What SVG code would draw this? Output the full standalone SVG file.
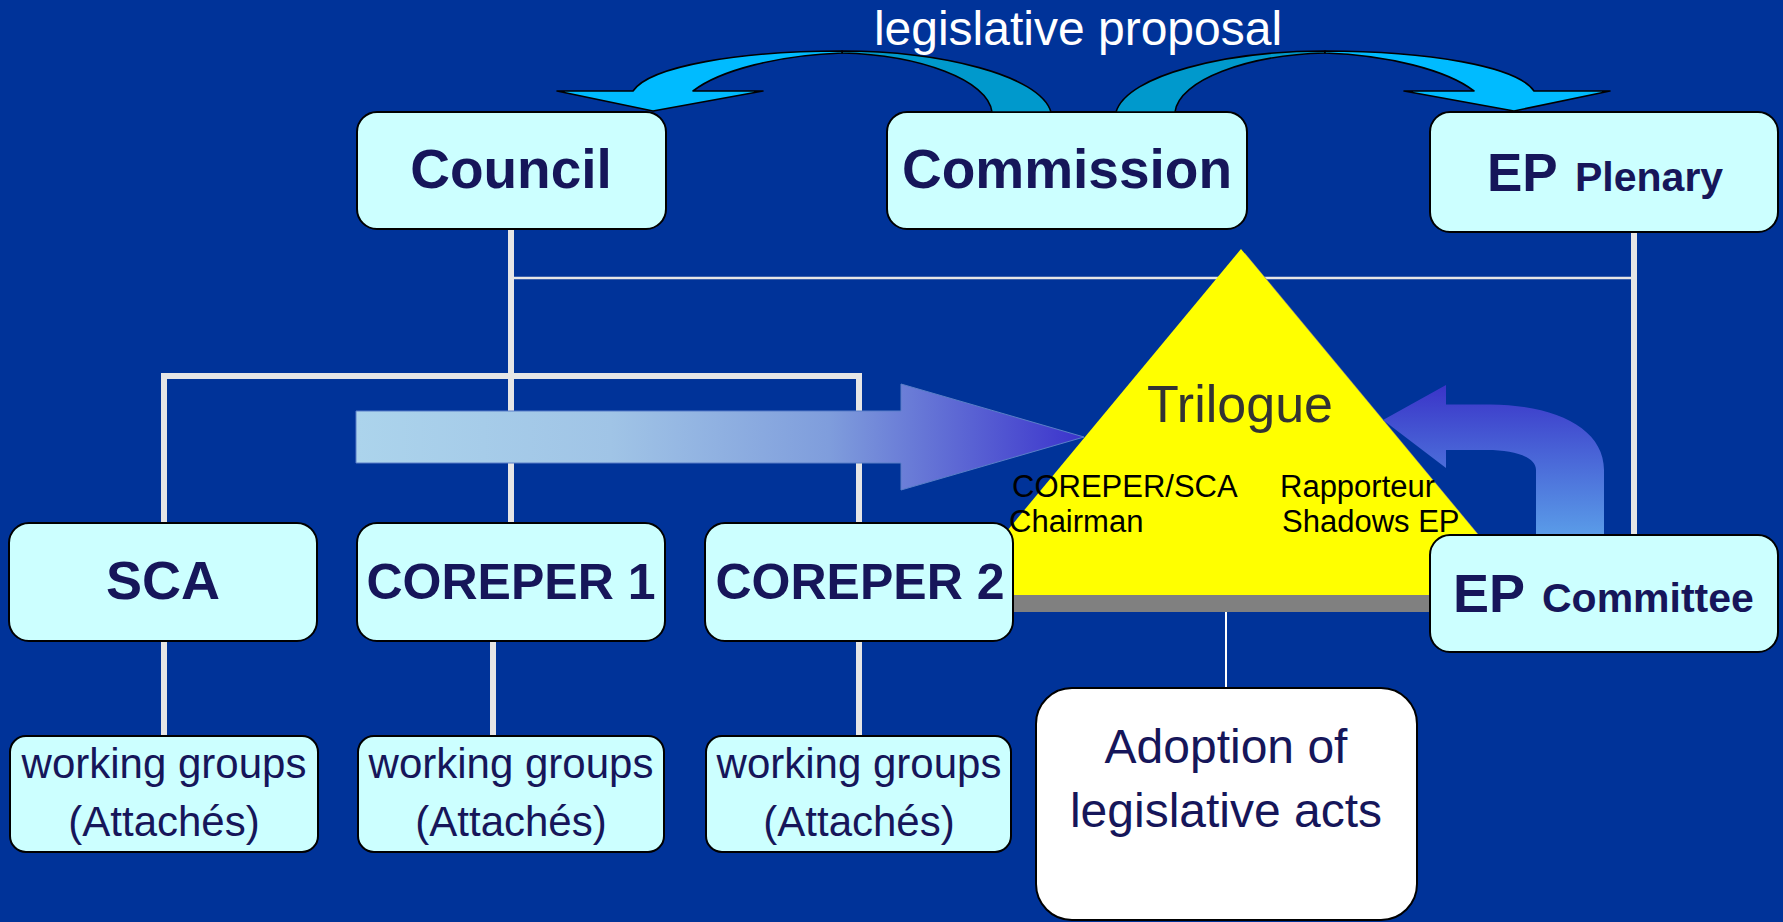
<svg xmlns="http://www.w3.org/2000/svg" width="1783" height="922" viewBox="0 0 1783 922">
<defs>
<style>
.box{fill:#ccffff;stroke:#000;stroke-width:2}
.t{font-family:"Liberation Sans",Arial,sans-serif;fill:#16165a;text-anchor:middle}
.b{font-weight:bold}
.thick{stroke:#e6e6e6;stroke-width:6;fill:none}
.thin{stroke:#e6e6e6;stroke-width:2.5;fill:none}
.lp{stroke:#000;stroke-width:1.6;stroke-linejoin:round}
.tri{font-family:"Liberation Sans",Arial,sans-serif;fill:#000;font-size:31px}
</style>
<linearGradient id="gH" x1="356" y1="0" x2="1084" y2="0" gradientUnits="userSpaceOnUse">
<stop offset="0" stop-color="#acd4ec"/>
<stop offset="0.35" stop-color="#a0c4e6"/>
<stop offset="0.65" stop-color="#7f9ddc"/>
<stop offset="1" stop-color="#3b33cc"/>
</linearGradient>
<linearGradient id="gV" x1="0" y1="385" x2="0" y2="535" gradientUnits="userSpaceOnUse">
<stop offset="0" stop-color="#3a34c8"/>
<stop offset="1" stop-color="#5a9ce8"/>
</linearGradient>
</defs>
<rect width="1783" height="922" fill="#003399"/>

<g id="connectors">
<path class="thin" d="M511 278 H1634"/>
<path class="thick" d="M511 229 V523"/>
<path class="thick" d="M164 523 V376 H859 V523"/>
<path class="thick" d="M164 641 V736 M493 641 V736 M859 641 V736"/>
<path class="thick" d="M1634 232 V535"/>
<path d="M1226 612 V688" stroke="#ffffff" stroke-width="2"/>
</g>

<g id="trilogue">
<polygon points="1245,253 1533,600 957,600" fill="#7a7a8a"/>
<polygon points="1241,249 1529,596 953,596" fill="#ffff00"/>
<rect x="953" y="595" width="576" height="17" fill="#808080"/>
</g>

<g id="arrow-council-trilogue">
<path d="M356 411 H901 V384 L1084 437 L901 490 V463 H356 Z" fill="url(#gH)" stroke="#5a7fc8" stroke-width="1"/>
</g>

<g id="arrow-committee-trilogue">
<path d="M1383 420 L1446 385 L1446 404.5 L1490 404.5 C1555 405 1604 428 1604 470 L1604 535 L1536 535 L1536 470 C1536 457 1515 450 1487 450 L1446 450 L1446 468 Z" fill="url(#gV)"/>
</g>

<g id="council">
<rect class="box" x="357" y="112" width="309" height="117" rx="20"/>
<text class="t b" x="511" y="188" font-size="55">Council</text>
</g>
<g id="commission">
<rect class="box" x="887" y="112" width="360" height="117" rx="20"/>
<text class="t b" x="1067" y="188" font-size="55">Commission</text>
</g>
<g id="ep-plenary">
<rect class="box" x="1430" y="112" width="348" height="120" rx="20"/>
<text class="t b" x="1487" y="191" style="text-anchor:start"><tspan font-size="53">EP</tspan><tspan x="1575" font-size="41">Plenary</tspan></text>
</g>

<g id="sca">
<rect class="box" x="9" y="523" width="308" height="118" rx="20"/>
<text class="t b" x="163" y="599" font-size="54">SCA</text>
</g>
<g id="coreper1">
<rect class="box" x="357" y="523" width="308" height="118" rx="20"/>
<text class="t b" x="511" y="599" font-size="50">COREPER 1</text>
</g>
<g id="coreper2">
<rect class="box" x="705" y="523" width="308" height="118" rx="20"/>
<text class="t b" x="860" y="599" font-size="50">COREPER 2</text>
</g>
<g id="ep-committee">
<rect class="box" x="1430" y="535" width="348" height="117" rx="20"/>
<text class="t b" x="1453" y="612" style="text-anchor:start"><tspan font-size="54">EP</tspan><tspan x="1542" font-size="41">Committee</tspan></text>
</g>

<g id="wg1">
<rect class="box" x="10" y="736" width="308" height="116" rx="16"/>
<text class="t" x="164" y="778" font-size="42">working groups</text>
<text class="t" x="164" y="836" font-size="42">(Attachés)</text>
</g>
<g id="wg2">
<rect class="box" x="358" y="736" width="306" height="116" rx="16"/>
<text class="t" x="511" y="778" font-size="42">working groups</text>
<text class="t" x="511" y="836" font-size="42">(Attachés)</text>
</g>
<g id="wg3">
<rect class="box" x="706" y="736" width="305" height="116" rx="16"/>
<text class="t" x="859" y="778" font-size="42">working groups</text>
<text class="t" x="859" y="836" font-size="42">(Attachés)</text>
</g>

<g id="adoption">
<rect x="1036" y="688" width="381" height="232" rx="36" fill="#ffffff" stroke="#000" stroke-width="2"/>
<text class="t" x="1226" y="763" font-size="48">Adoption of</text>
<text class="t" x="1226" y="827" font-size="48">legislative acts</text>
</g>

<g id="trilogue-text">
<text x="1240" y="422" font-family="Liberation Sans, Arial, sans-serif" font-size="52" fill="#333333" text-anchor="middle">Trilogue</text>
<text class="tri" x="1012" y="497">COREPER/SCA</text>
<text class="tri" x="1009" y="532">Chairman</text>
<text class="tri" x="1280" y="497">Rapporteur</text>
<text class="tri" x="1282" y="532">Shadows EP</text>
</g>

<g id="legislative-proposal">
<g id="lp-left">
<path class="lp" d="M842 51 C940 51 1040 75 1051 112 L992 112 C988 80 920 55 842 53 Z" fill="#0099cc"/>
<path class="lp" d="M842 51 C740 51 650 66 633 91 L557 91 L653 111 L763 91 L693 91 C720 70 780 55 842 53 Z" fill="#00bbff"/>
</g>
<g id="lp-right" transform="matrix(-1 0 0 1 2167 0)">
<path class="lp" d="M842 51 C940 51 1040 75 1051 112 L992 112 C988 80 920 55 842 53 Z" fill="#0099cc"/>
<path class="lp" d="M842 51 C740 51 650 66 633 91 L557 91 L653 111 L763 91 L693 91 C720 70 780 55 842 53 Z" fill="#00bbff"/>
</g>
<text x="1078" y="45" font-family="Liberation Sans, Arial, sans-serif" font-size="48" fill="#ffffff" text-anchor="middle">legislative proposal</text>
</g>
</svg>
